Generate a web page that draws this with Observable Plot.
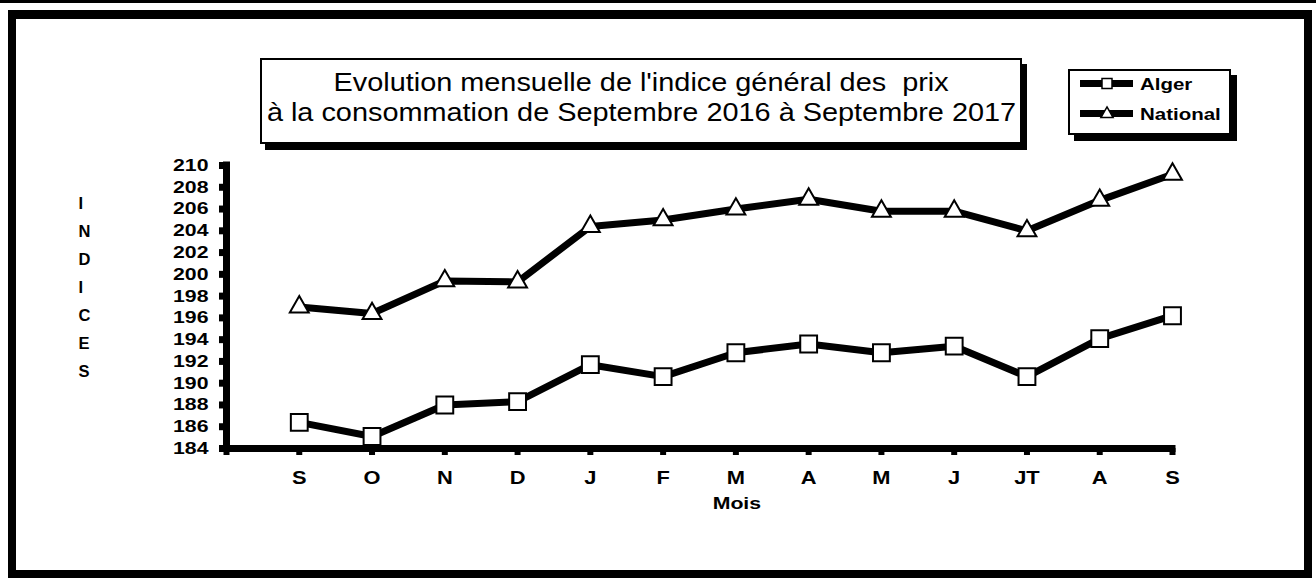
<!DOCTYPE html>
<html>
<head>
<meta charset="utf-8">
<script src="https://cdn.jsdelivr.net/npm/d3@7"></script>
<script src="https://cdn.jsdelivr.net/npm/@observablehq/plot@0.6"></script>
<style>
  html, body { margin: 0; padding: 0; background: #fff; }
  body { width: 1316px; height: 578px; position: relative; overflow: hidden; font-family: "Liberation Sans", Arial, sans-serif; }
  #topbar { position: absolute; left: 0; top: 0; width: 1316px; height: 3px; background: #000; }
  #frame { position: absolute; left: 8px; top: 10px; width: 1304px; height: 568px; box-sizing: border-box; border: 8px solid #000; border-top-width: 9px; }
  #chart { position: absolute; left: 0; top: 0; }
  #title { position: absolute; left: 260px; top: 58px; width: 762px; height: 86px; box-sizing: border-box; border: 2px solid #000; background: #fff; box-shadow: 5px 6px 0 #000; padding-top: 7px; }
  #title div { height: 30px; line-height: 30px; font-size: 26px; text-align: center; white-space: pre; }
  #title span { display: inline-block; transform: scaleX(1.11); transform-origin: center; }
  #legend { position: absolute; left: 1068px; top: 69px; width: 163px; height: 66px; box-sizing: border-box; border: 2px solid #000; background: #fff; box-shadow: 6px 6px 0 #000; }
  #legend svg { position: absolute; left: 0; top: 0; }
  #legend .lab { position: absolute; left: 70px; font-weight: bold; font-size: 16.5px; line-height: 20px; transform: scaleX(1.24); transform-origin: left center; white-space: nowrap; }
</style>
</head>
<body>
<div id="topbar"></div>
<div id="frame"></div>
<div id="chart"></div>
<div id="title"></div>
<div id="legend"></div>
<script>
// ---- data ----
const months = ["S", "O", "N", "D", "J", "F", "M", "A", "M", "J", "JT", "A", "S"];
const alger = [186.4, 185.1, 188.0, 188.3, 191.7, 190.6, 192.8, 193.6, 192.8, 193.4, 190.6, 194.1, 196.2];
const national = [197.0, 196.4, 199.4, 199.3, 204.4, 205.0, 206.0, 206.9, 205.8, 205.8, 204.0, 206.8, 209.2];
const seriesNames = ["Alger", "National"];
const yTicks = [184, 186, 188, 190, 192, 194, 196, 198, 200, 202, 204, 206, 208, 210];
const titleLines = ["Evolution mensuelle de l'indice général des  prix", "à la consommation de Septembre 2016 à Septembre 2017"];
const yTitle = "INDICES";
const xTitle = "Mois";

const rowsA = alger.map((v, i) => ({pos: i + 1, month: months[i], value: v, series: seriesNames[0]}));
const rowsN = national.map((v, i) => ({pos: i + 1, month: months[i], value: v, series: seriesNames[1]}));
const xTickPos = d3.range(0, months.length + 1);

const font = "'Liberation Sans', Arial, sans-serif";

const chart = Plot.plot({
  width: 1316,
  height: 578,
  marginLeft: 226,
  marginRight: 144,
  marginTop: 165,
  marginBottom: 130,
  x: {domain: [0, months.length], axis: null},
  y: {domain: [yTicks[0], yTicks[yTicks.length - 1]], axis: null},
  style: {background: "transparent", fontFamily: font, overflow: "visible", color: "#000"},
  marks: [
    Plot.axisY({ticks: yTicks, tickSize: 7, strokeWidth: 7, tickPadding: 11, fontSize: 17, fontWeight: "bold", label: null, anchor: "left"}),
    Plot.axisX({ticks: xTickPos, tickSize: 7, strokeWidth: 6, tickPadding: 16, fontSize: 17.5, fontWeight: "bold", label: null, anchor: "bottom",
      tickFormat: (d) => d === 0 ? "" : months[d - 1]}),
    Plot.ruleX([0], {y1: yTicks[0], y2: yTicks[yTicks.length - 1], stroke: "#000", strokeWidth: 7, strokeLinecap: "square"}),
    Plot.ruleY([yTicks[0]], {x1: 0, x2: months.length, stroke: "#000", strokeWidth: 7, strokeLinecap: "square"}),
    Plot.line(rowsA, {x: "pos", y: "value", stroke: "#000", strokeWidth: 7}),
    Plot.line(rowsN, {x: "pos", y: "value", stroke: "#000", strokeWidth: 7}),
    Plot.dot(rowsA, {x: "pos", y: "value", symbol: "square", r: 9.5, fill: "#fff", stroke: "#000", strokeWidth: 2}),
    Plot.dot(rowsN, {x: "pos", y: "value", symbol: "triangle", r: 7, fill: "#fff", stroke: "#000", strokeWidth: 2}),
    Plot.text([xTitle], {x: 7, y: yTicks[0], dx: 1, dy: 55, text: (d) => d, fontSize: 17, fontWeight: "bold", fill: "#000"}),
    Plot.text([yTitle], {frameAnchor: "left", dx: -148, dy: -23, text: (d) => d.split("").join("\n"), lineHeight: 1.7, fontSize: 16.5, fontWeight: "bold", fill: "#000", className: "ytitle"})
  ]
});

// Horizontal stretch of the axis texts to match the reference's wide lettering
chart.querySelectorAll("text").forEach((t) => {
  if (t.closest(".ytitle")) return;
  const tr = t.getAttribute("transform");
  if (tr) t.setAttribute("transform", tr + " scale(1.25,1)");
  else {
    const x = +(t.getAttribute("x") || 0), y = +(t.getAttribute("y") || 0);
    t.removeAttribute("x"); t.removeAttribute("y");
    t.setAttribute("transform", `translate(${x},${y}) scale(1.25,1)`);
  }
});
document.getElementById("chart").appendChild(chart);

// Title box
const title = document.getElementById("title");
titleLines.forEach((l) => {
  const div = document.createElement("div");
  const span = document.createElement("span");
  span.textContent = l;
  div.appendChild(span);
  title.appendChild(div);
});

// Legend
const legend = document.getElementById("legend");
const ns = "http://www.w3.org/2000/svg";
const lsvg = document.createElementNS(ns, "svg");
lsvg.setAttribute("width", 159);
lsvg.setAttribute("height", 62);
const rowY = [12.5, 42.5];
seriesNames.forEach((name, i) => {
  const y = rowY[i];
  const line = document.createElementNS(ns, "line");
  line.setAttribute("x1", 10); line.setAttribute("x2", 63);
  line.setAttribute("y1", y); line.setAttribute("y2", y);
  line.setAttribute("stroke", "#000"); line.setAttribute("stroke-width", 7);
  lsvg.appendChild(line);
  const sym = document.createElementNS(ns, "path");
  const size = i === 0 ? 100 : 64;
  sym.setAttribute("d", d3.symbol(i === 0 ? d3.symbolSquare : d3.symbolTriangle, size)());
  sym.setAttribute("transform", `translate(37,${y + (i === 0 ? 0 : 0.5)})`);
  sym.setAttribute("fill", "#fff"); sym.setAttribute("stroke", "#000"); sym.setAttribute("stroke-width", 1.5);
  lsvg.appendChild(sym);
  const lab = document.createElement("div");
  lab.className = "lab";
  lab.style.top = (y - 10) + "px";
  lab.textContent = name;
  legend.appendChild(lab);
});
legend.appendChild(lsvg);
</script>
</body>
</html>
